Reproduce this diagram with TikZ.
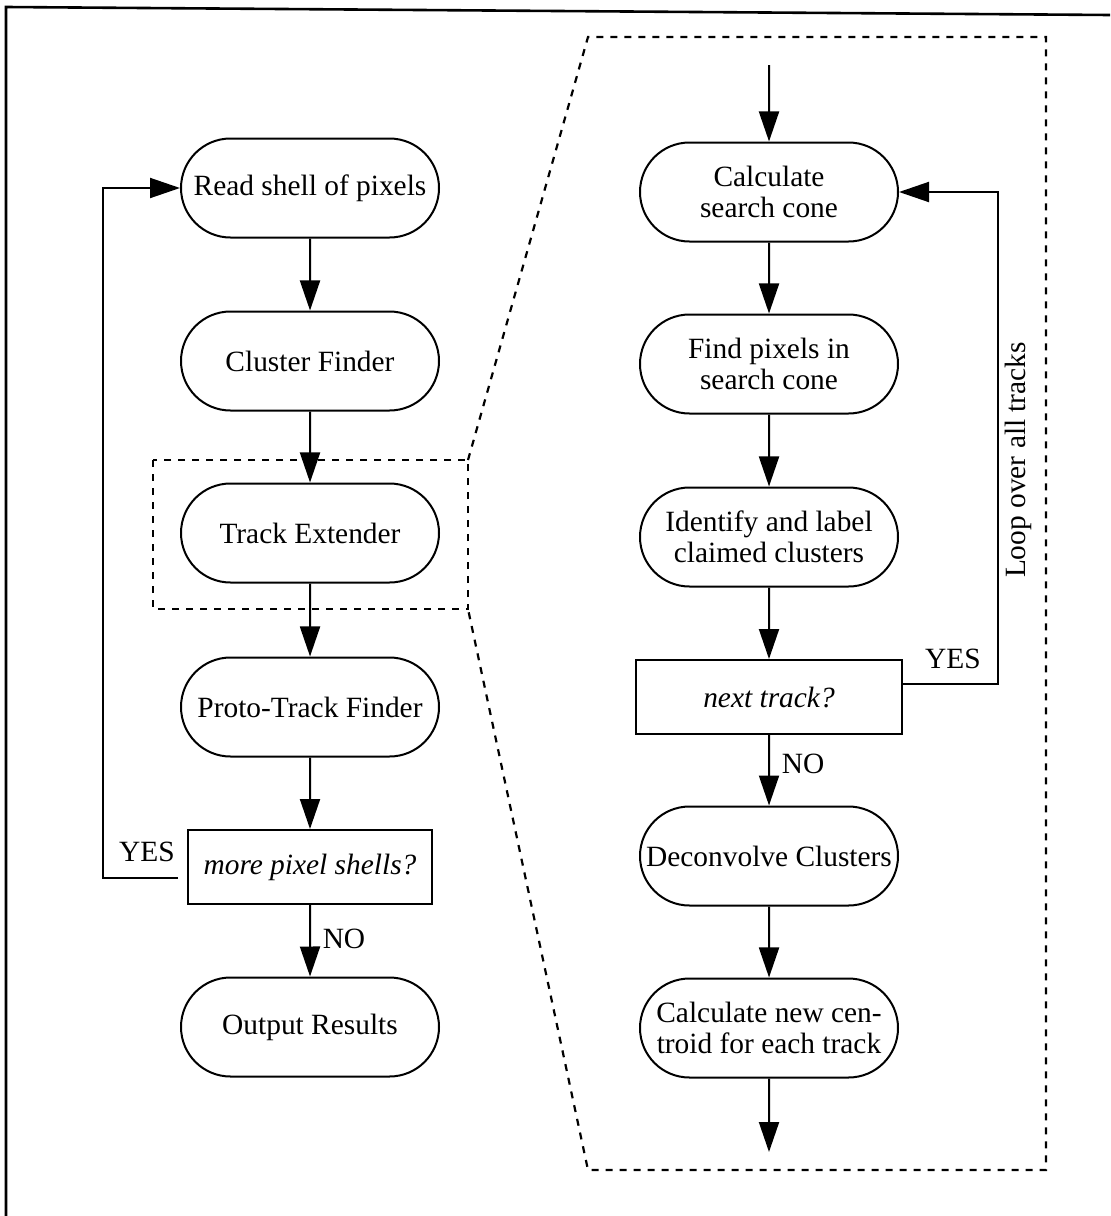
\documentclass[tikz,border=0pt]{standalone}
\usepackage{fontspec}
\setmainfont{Liberation Serif}
\usetikzlibrary{shapes.misc,arrows.meta,positioning}

\begin{document}
\begin{tikzpicture}[x=0.5pt,y=-0.5pt,
  font=\fontsize{14.7pt}{15.5pt}\selectfont,
  proc/.style={rounded rectangle, draw, line width=1pt, align=center,
    minimum width=133pt, minimum height=49.5pt, inner sep=2pt},
  decide/.style={rectangle, draw, line width=1pt, align=center,
    minimum height=37pt, font=\fontsize{14.7pt}{15.5pt}\selectfont\itshape},
  flow/.style={line width=1pt, -{Triangle[length=15pt,width=10pt]}},
  zoomline/.style={line width=1.1pt, dash pattern=on 3.5pt off 3.5pt},
  lbl/.style={inner sep=0pt}]

\useasboundingbox (0,0) rectangle (1110,1216);

% page frame
\draw[line width=1.3pt] (6,1216) -- (6,7) -- (1110,15);

% main loop over pixel shells
\node[proc] (read) at (310,188) {Read shell of pixels};
\node[proc] (clus) at (310,361) {Cluster Finder};
\node[proc] (ext) at (310,533) {Track Extender};
\node[proc] (proto) at (310,707) {Proto-Track Finder};
\node[decide, minimum width=122pt] (more) at (310,867) {more pixel shells?};
\node[proc] (out) at (310,1027) {Output Results};

\draw[flow] (read) -- (clus);
\draw[flow] (clus) -- (ext);
\draw[flow] (ext) -- (proto);
\draw[flow] (proto) -- (more);
\draw[flow] (more) -- (out);

\coordinate (yesL) at (178,878);
\coordinate (loopL) at (103,878);
\draw[flow] (yesL) -- (loopL) |- (read.west);
\node[lbl] (yesLt) at (147,852) {YES};
\node[lbl] (noLt) at (344,939) {NO};

% track extender detail
\node[proc] (cone) at (769,192) {Calculate\\search cone};
\node[proc] (find) at (769,364) {Find pixels in\\search cone};
\node[proc] (ident) at (769,537) {Identify and label\\claimed clusters};
\node[decide, minimum width=133pt] (next) at (769,697) {next track?};
\node[proc] (deconv) at (769,856) {Deconvolve Clusters};
\node[proc] (cent) at (769,1028) {Calculate new cen-\\troid for each track};

\coordinate (inTop) at (769,65);
\coordinate (outBot) at (769,1152);
\draw[flow] (inTop) -- (cone);
\draw[flow] (cone) -- (find);
\draw[flow] (find) -- (ident);
\draw[flow] (ident) -- (next);
\draw[flow] (next) -- (deconv);
\draw[flow] (deconv) -- (cent);
\draw[flow] (cent) -- (outBot);

\coordinate (yesR) at (902,684);
\coordinate (loopR) at (998,684);
\draw[flow] (yesR) -- (loopR) |- (cone.east);
\node[lbl] (yesRt) at (953,659) {YES};
\node[lbl] (noRt) at (803,764) {NO};
\node[lbl, rotate=90] (looptxt) at (1018,460) {Loop over all tracks};

% magnified region outline
\draw[zoomline] (153,460) rectangle (468,609);
\draw[zoomline] (468,460) -- (588,37) -- (1046,37) -- (1046,1170)
  -- (588,1170) -- (468,609);

\end{tikzpicture}
\end{document}
